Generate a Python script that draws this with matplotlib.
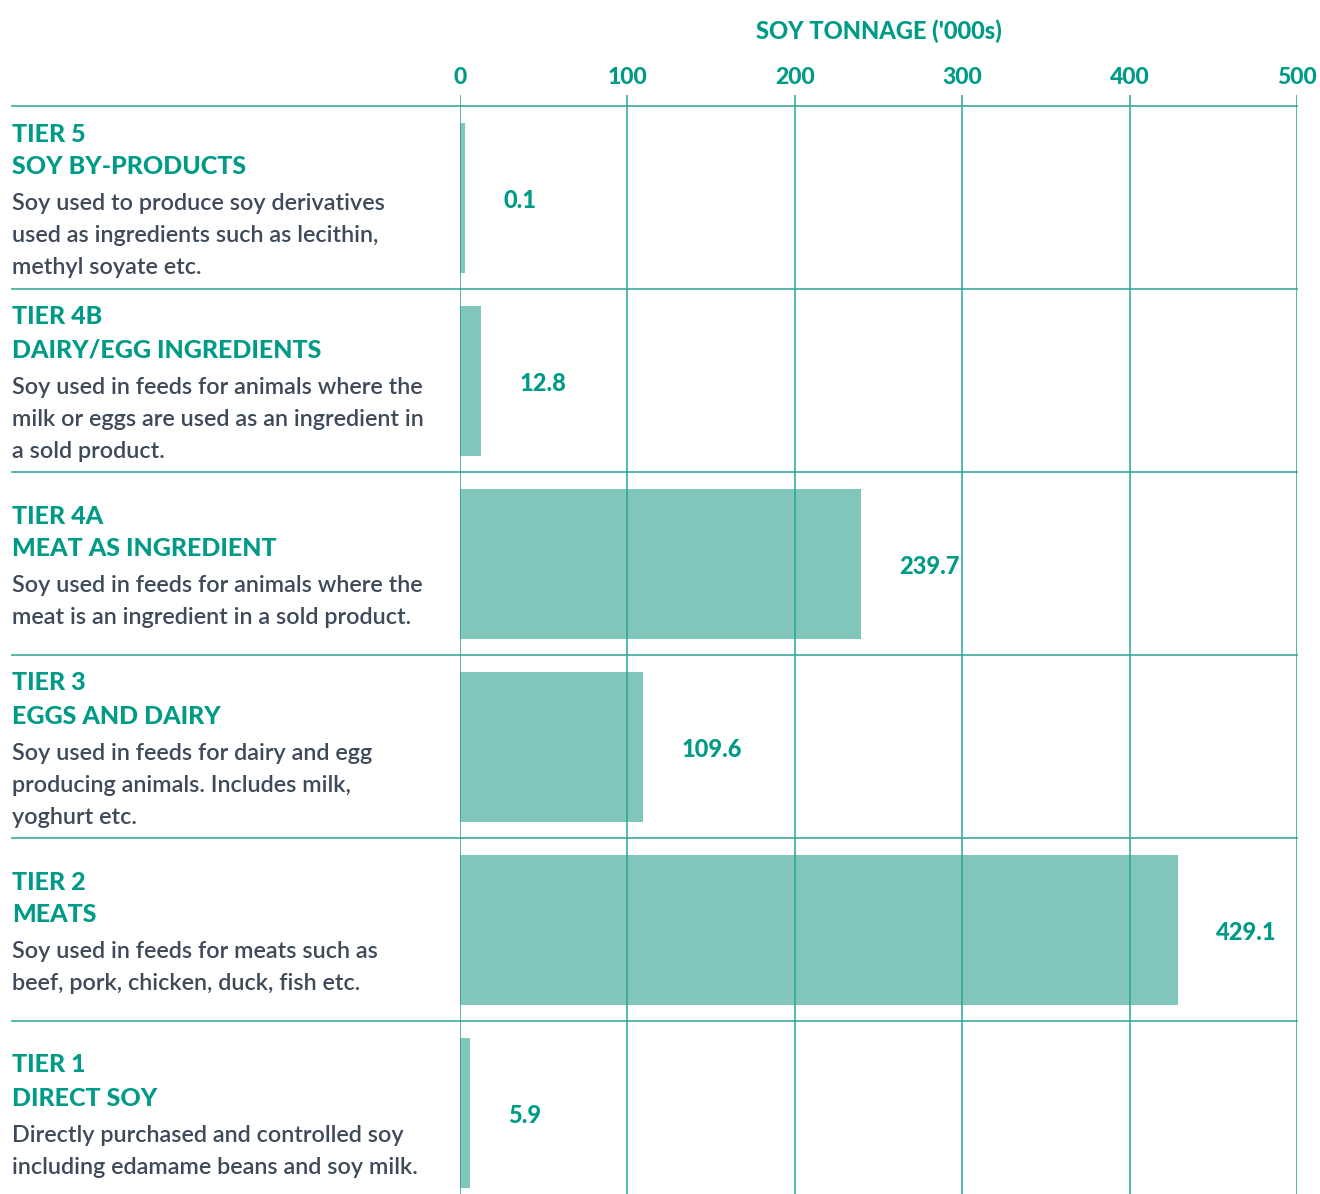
import matplotlib
matplotlib.use("Agg")
import matplotlib.pyplot as plt
import numpy as np

# ---- data ----
tiers = ["TIER 5", "TIER 4B", "TIER 4A", "TIER 3", "TIER 2", "TIER 1"]
names = ["SOY BY-PRODUCTS", "DAIRY/EGG INGREDIENTS", "MEAT AS INGREDIENT",
         "EGGS AND DAIRY", "MEATS", "DIRECT SOY"]
descriptions = [
    ["Soy used to produce soy derivatives", "used as ingredients such as lecithin,", "methyl soyate etc."],
    ["Soy used in feeds for animals where the", "milk or eggs are used as an ingredient in", "a sold product."],
    ["Soy used in feeds for animals where the", "meat is an ingredient in a sold product."],
    ["Soy used in feeds for dairy and egg", "producing animals. Includes milk,", "yoghurt etc."],
    ["Soy used in feeds for meats such as", "beef, pork, chicken, duck, fish etc."],
    ["Directly purchased and controlled soy", "including edamame beans and soy milk."],
]
values = [0.1, 12.8, 239.7, 109.6, 429.1, 5.9]
value_labels = ["0.1", "12.8", "239.7", "109.6", "429.1", "5.9"]
xticks = [0, 100, 200, 300, 400, 500]
axis_title = "SOY TONNAGE ('000s)"

# ---- style ----
TEAL = "#009B86"
BAR = "#80C6BA"
GRID = "#2AA594"
GREY = "#3E4A59"
W, H, DPI = 1320, 1194, 100

fig = plt.figure(figsize=(W / DPI, H / DPI), dpi=DPI)
left, right, top, bottom = 460, 1297, 95, 1204
ax = fig.add_axes([left / W, 1 - bottom / H, (right - left) / W, (bottom - top) / H])

n = len(values)
ypos = np.arange(n)
row_px = 183
top_extra = (106 - 95) / row_px
ax.set_ylim(n - 0.5, -0.5 - top_extra)
ax.set_xlim(0, 500)

# minimum visible width for tiny bars
disp_vals = [max(v, 3.0) for v in values]
ax.barh(ypos, disp_vals, height=150 / row_px, color=BAR, zorder=1, linewidth=0)

for t in xticks:
    ax.axvline(t, color=GRID, lw=1.3, alpha=0.85, zorder=3)

for i in range(n):
    ax.axhline(i - 0.5, xmin=(12 - left) / (right - left), xmax=1.0,
               color=GRID, lw=1.3, alpha=0.85, zorder=3, clip_on=False)

for s in ax.spines.values():
    s.set_visible(False)
ax.set_yticks([])
ax.xaxis.tick_top()
ax.set_xticks(xticks)
ax.set_xticklabels([str(t) for t in xticks])
ax.tick_params(axis="x", length=0, pad=5, labelsize=16.5, labelcolor=TEAL)
for lab in ax.get_xticklabels():
    lab.set_fontfamily("Lato")
    lab.set_fontweight("black")

fig.text(((left + right) / 2) / W, 1 - 31 / H, axis_title, ha="center", va="center",
         fontsize=17, color=TEAL, fontfamily="Lato", fontweight="black")

for y, v, dv, lab in zip(ypos, values, disp_vals, value_labels):
    ax.annotate(lab, xy=(dv, y), xytext=(38, -3), textcoords="offset pixels",
                ha="left", va="center", fontsize=17, color=TEAL,
                fontfamily="Lato", fontweight="black")

x_text = 12 / W
for y, tier, name, desc in zip(ypos, tiers, names, descriptions):
    nl = len(desc)
    span = 70 + 32 * (nl - 1)
    first = -span / 2 + 3.5
    lines = [(tier, 0, True), (name, 33, True)] + [(d, 70 + 32 * k, False) for k, d in enumerate(desc)]
    for txt, off, bold in lines:
        dy = -(first + off)
        if bold:
            ax.annotate(txt, xy=(x_text, y), xycoords=("figure fraction", "data"),
                        xytext=(0, dy), textcoords="offset pixels", ha="left", va="center",
                        fontsize=18, color=TEAL, fontfamily="Lato", fontweight="black",
                        annotation_clip=False)
        else:
            ax.annotate(txt, xy=(x_text, y), xycoords=("figure fraction", "data"),
                        xytext=(0, dy), textcoords="offset pixels", ha="left", va="center",
                        fontsize=16.8, color=GREY, fontfamily="Lato", fontweight="semibold",
                        annotation_clip=False)

fig.savefig("out.png", dpi=DPI)
